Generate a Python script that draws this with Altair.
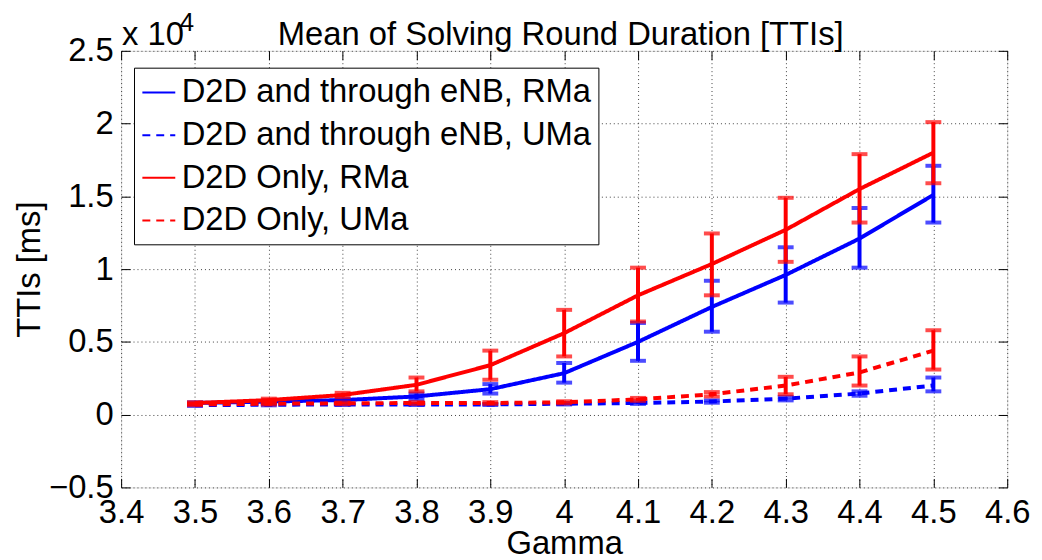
import altair as alt
import pandas as pd

FONT = "Liberation Sans"
FS = 33

gamma = [3.5, 3.6, 3.7, 3.8, 3.9, 4.0, 4.1, 4.2, 4.3, 4.4, 4.5]
series_names = [
    "D2D and through eNB, RMa",
    "D2D and through eNB, UMa",
    "D2D Only, RMa",
    "D2D Only, UMa",
]
series_colors = ["#0000ff", "#0000ff", "#ff0000", "#ff0000"]
series_dashes = [[1, 0], [8, 6], [1, 0], [8, 6]]

# values in TTIs (axis shown in units of 10^4)
enb_rma_mean = [800, 900, 1000, 1250, 1750, 2850, 5000, 7400, 9600, 12100, 15100]
enb_rma_lo = [750, 840, 920, 1050, 1450, 2200, 3700, 5700, 7700, 10100, 13200]
enb_rma_hi = [850, 960, 1080, 1450, 2100, 3550, 6300, 9200, 11500, 14200, 17100]

enb_uma_mean = [650, 680, 700, 700, 700, 750, 800, 900, 1100, 1450, 2000]
enb_uma_lo = [600, 640, 660, 660, 660, 700, 740, 820, 980, 1300, 1600]
enb_uma_hi = [700, 720, 740, 740, 740, 800, 860, 980, 1220, 1600, 2550]

d2d_rma_mean = [800, 1000, 1350, 2050, 3400, 5600, 8200, 10350, 12700, 15500, 18000]
d2d_rma_lo = [750, 900, 1200, 1600, 2400, 4000, 6400, 8200, 10500, 13200, 15900]
d2d_rma_hi = [850, 1100, 1500, 2550, 4400, 7200, 10100, 12450, 14900, 17900, 20100]

d2d_uma_mean = [700, 750, 780, 800, 800, 850, 1050, 1400, 2000, 2900, 4400]
d2d_uma_lo = [650, 700, 720, 740, 740, 780, 950, 1250, 1400, 2000, 3100]
d2d_uma_hi = [750, 800, 840, 860, 860, 920, 1150, 1550, 2600, 4000, 5800]

x_ticks = [3.4, 3.5, 3.6, 3.7, 3.8, 3.9, 4.0, 4.1, 4.2, 4.3, 4.4, 4.5, 4.6]
y_ticks = [-5000, 0, 5000, 10000, 15000, 20000, 25000]

title_text = "Mean of Solving Round Duration [TTIs]"
exp_text = "x 10"
exp_power = "4"

means = [enb_rma_mean, enb_uma_mean, d2d_rma_mean, d2d_uma_mean]
los = [enb_rma_lo, enb_uma_lo, d2d_rma_lo, d2d_uma_lo]
his = [enb_rma_hi, enb_uma_hi, d2d_rma_hi, d2d_uma_hi]

rows = []
for name, m, lo, hi in zip(series_names, means, los, his):
    for g, a, b, c in zip(gamma, m, lo, hi):
        rows.append({"gamma": g, "series": name, "mean": a, "lo": b, "hi": c})
df = pd.DataFrame(rows)

W, H = 893, 440
xs = alt.Scale(domain=[3.4, 4.6], nice=False, zero=False)
ys = alt.Scale(domain=[-5000, 25000], nice=False, zero=False)
color_scale = alt.Scale(domain=series_names, range=series_colors)
dash_scale = alt.Scale(domain=series_names, range=series_dashes)

leg = alt.Legend(
    title=None, orient="none", legendX=13, legendY=17, direction="vertical",
    fillColor="white", strokeColor="black", padding=7,
    labelFontSize=FS, labelFont=FONT, labelColor="black", labelLimit=2000,
    symbolType="stroke", symbolSize=1100, symbolStrokeWidth=2,
    labelOffset=5, rowPadding=8,
)

main_x = alt.Axis(
    values=x_ticks, format="~g", grid=True, gridDash=[1, 3], gridColor="#000000",
    gridOpacity=0.75, ticks=False, domain=False, labelFontSize=FS, labelFont=FONT,
    labelColor="black", labelPadding=9, labelFlush=False, labelOverlap=False,
    title="Gamma", titleFontSize=FS, titleFont=FONT, titleFontWeight="normal",
    titleColor="black", titlePadding=-1,
)
main_y = alt.Axis(
    values=y_ticks, labelExpr="format(datum.value / 10000, '~g')", grid=True,
    gridDash=[1, 3], gridColor="#000000", gridOpacity=0.75, ticks=False, domain=False,
    labelFontSize=FS, labelFont=FONT, labelColor="black", labelPadding=8,
    labelFlush=False, labelOverlap=False,
    title="TTIs [ms]", titleFontSize=FS, titleFont=FONT, titleFontWeight="normal",
    titleColor="black", titlePadding=2,
)


def tick_axis(orient, offset, vals):
    return alt.Axis(
        orient=orient, offset=offset, values=vals, labels=False, grid=False,
        domain=False, ticks=True, tickSize=9, tickColor="black", tickWidth=1,
        title=None,
    )


layers = []
for i, name in enumerate(series_names):
    base = alt.Chart(df).transform_filter(alt.datum.series == name)
    if i == 0:
        lx, ly = main_x, main_y
        rx, ry = tick_axis("top", -H, x_ticks), tick_axis("right", -W, y_ticks)
        cx, cy = tick_axis("bottom", -H, x_ticks), tick_axis("left", -W, y_ticks)
    else:
        lx = ly = rx = ry = cx = cy = None
    line = base.mark_line(strokeWidth=4).encode(
        x=alt.X("gamma:Q", scale=xs, axis=lx),
        y=alt.Y("mean:Q", scale=ys, axis=ly),
        color=alt.Color("series:N", scale=color_scale, legend=leg),
        strokeDash=alt.StrokeDash("series:N", scale=dash_scale, legend=leg),
    )
    rule = base.mark_rule(strokeWidth=4).encode(
        x=alt.X("gamma:Q", scale=xs, axis=rx),
        y=alt.Y("lo:Q", scale=ys, axis=ry),
        y2="hi:Q",
        color=alt.value(series_colors[i]),
    )
    caps = base.transform_fold(["lo", "hi"], as_=["which", "val"]).mark_tick(
        orient="horizontal", thickness=4, size=16
    ).encode(
        x=alt.X("gamma:Q", scale=xs, axis=cx),
        y=alt.Y("val:Q", scale=ys, axis=cy),
        color=alt.value(series_colors[i]),
    )
    layers += [line, rule, caps]

txt_df = pd.DataFrame({"t": [exp_text], "e": [exp_power], "title": [title_text]})
exp_base = alt.Chart(txt_df).mark_text(
    font=FONT, fontSize=FS, align="left", baseline="alphabetic", color="black"
).encode(text="t:N", x=alt.value(1), y=alt.value(-6))
exp_sup = alt.Chart(txt_df).mark_text(
    font=FONT, fontSize=26, align="left", baseline="alphabetic", color="black"
).encode(text="e:N", x=alt.value(59), y=alt.value(-20))
title_mark = alt.Chart(txt_df).mark_text(
    font=FONT, fontSize=FS, align="center", baseline="alphabetic", color="black"
).encode(text="title:N", x=alt.value(443), y=alt.value(-6))
layers += [exp_base, exp_sup, title_mark]

chart = (
    alt.layer(*layers)
    .resolve_axis(x="independent", y="independent")
    .properties(
        width=W, height=H,
        autosize=alt.AutoSizeParams(type="none"),
        padding={"left": 114, "top": 41, "right": 27, "bottom": 71},
    )
    .configure_view(stroke="black", strokeWidth=1.5)
    .configure(background="white")
)

chart.save("out.html", embed_options={"renderer": "svg", "actions": False})
